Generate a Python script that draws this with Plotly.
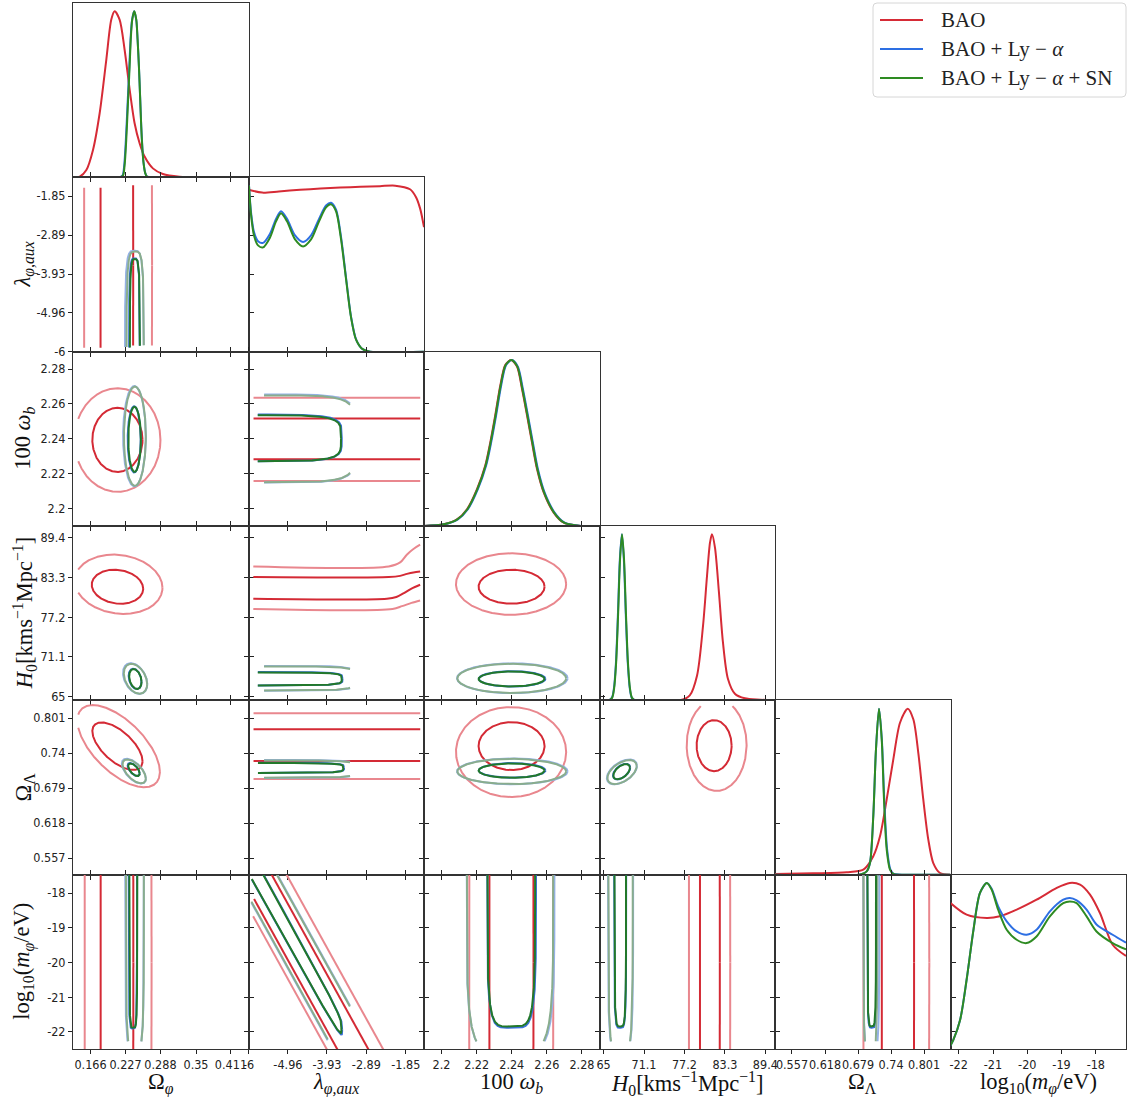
import numpy as np
import plotly.graph_objects as go

# ---------------------------------------------------------------- parameters
PARAM_KEYS = ["om", "lam", "wb", "h0", "ol", "lm"]

AXIS_LABELS = {
    "om": "Ω<sub><i>φ</i></sub>",
    "lam": "<i>λ</i><sub><i>φ,aux</i></sub>",
    "wb": "100 <i>ω</i><sub><i>b</i></sub>",
    "h0": "<i>H</i><sub>0</sub>[kms<sup>−1</sup>Mpc<sup>−1</sup>]",
    "ol": "Ω<sub>Λ</sub>",
    "lm": "log<sub>10</sub>(<i>m</i><sub><i>φ</i></sub>/eV)",
}

TICK_VALUES = {
    "om": [0.166, 0.227, 0.288, 0.35, 0.411],
    "lam": [-6.0, -4.96, -3.93, -2.89, -1.85],
    "wb": [2.2, 2.22, 2.24, 2.26, 2.28],
    "h0": [65.0, 71.1, 77.2, 83.3, 89.4],
    "ol": [0.557, 0.618, 0.679, 0.74, 0.801],
    "lm": [-22, -21, -20, -19, -18],
}
TICK_TEXT = {
    "om": ["0.166", "0.227", "0.288", "0.35", "0.411"],
    "lam": ["-6", "-4.96", "-3.93", "-2.89", "-1.85"],
    "wb": ["2.2", "2.22", "2.24", "2.26", "2.28"],
    "h0": ["65", "71.1", "77.2", "83.3", "89.4"],
    "ol": ["0.557", "0.618", "0.679", "0.74", "0.801"],
    "lm": ["-22", "-21", "-20", "-19", "-18"],
}

# column (x) and row (y) limits
X_RANGES = {
    "om": [0.1354, 0.4416],
    "lam": [-6.0, -1.37],
    "wb": [2.19, 2.29],
    "h0": [64.39, 90.85],
    "ol": [0.5256, 0.8499],
    "lm": [-22.24, -17.12],
}
Y_RANGES = {
    "lam": [-6.0, -1.35],
    "wb": [2.19, 2.29],
    "h0": [64.45, 91.2],
    "ol": [0.528, 0.832],
    "lm": [-22.49, -17.47],
}
PDF_RANGE = [0.0, 1.05]

# ---------------------------------------------------------------- datasets
DATASET_NAMES = ["BAO", "BAO + Ly − <i>α</i>", "BAO + Ly − <i>α</i> + SN"]
LINE_COLORS = ["#d62b36", "#2d6fe3", "#2e8b22"]
INNER_COLORS = ["#d42a35", "#3a70dc", "#22782a"]
OUTER_COLORS = ["#e9878e", "#94b1e6", "#89ad8d"]

# 1D marginals (normalised to peak = 1): x samples and heights
BAO_1D = {
    "om": ([0.1354, 0.1471, 0.1587, 0.1703, 0.1819, 0.1935, 0.2022, 0.2080, 0.2167, 0.2254,
            0.2342, 0.2429, 0.2516, 0.2603, 0.2748, 0.2922, 0.3212, 0.3676, 0.4416],
           [0.0, 0.004, 0.044, 0.165, 0.386, 0.708, 0.95, 1.0, 0.95, 0.77,
            0.53, 0.326, 0.205, 0.125, 0.054, 0.02, 0.004, 0.0, 0.0]),
    "lam": ([-6.0, -5.64, -5.2, -4.64, -4.1, -3.58, -3.05, -2.53, -2.13, -1.74, -1.58, -1.47, -1.37],
            [0.975, 0.958, 0.965, 0.975, 0.982, 0.988, 0.993, 0.997, 1.0, 0.978, 0.93, 0.86, 0.75]),
    "wb": ([2.19, 2.2012, 2.2088, 2.2145, 2.2202, 2.2249, 2.2278, 2.2306, 2.2335, 2.2363, 2.2396,
            2.243, 2.2458, 2.2487, 2.2515, 2.2544, 2.2582, 2.2639, 2.2696, 2.2791, 2.29],
           [0.0, 0.01, 0.04, 0.101, 0.222, 0.364, 0.505, 0.667, 0.848, 0.97, 1.0,
            0.96, 0.828, 0.667, 0.505, 0.343, 0.202, 0.081, 0.02, 0.0, 0.0]),
    "h0": ([64.39, 76.5, 78.0, 79.1, 80.0, 80.6, 81.05, 81.35, 81.8, 82.4, 83.0, 83.75, 84.8, 86.3, 88.6, 90.85],
           [0.0, 0.0, 0.03, 0.15, 0.45, 0.75, 0.95, 1.0, 0.92, 0.65, 0.35, 0.13, 0.04, 0.012, 0.004, 0.0]),
    "ol": ([0.5256, 0.5964, 0.6581, 0.6888, 0.7072, 0.7196, 0.732, 0.7442, 0.7566, 0.7708,
            0.7812, 0.7904, 0.7996, 0.8089, 0.8181, 0.8305, 0.8499],
           [0.004, 0.008, 0.014, 0.03, 0.111, 0.231, 0.453, 0.694, 0.915, 1.0,
            0.936, 0.734, 0.453, 0.211, 0.07, 0.01, 0.0]),
    "lm": ([-22.24, -21.77, -21.18, -20.8, -20.31, -19.73, -19.14, -18.76, -18.46, -18.17, -17.88, -17.51, -17.12],
           [0.879, 0.809, 0.789, 0.799, 0.839, 0.899, 0.97, 1.0, 0.99, 0.93, 0.819, 0.628, 0.56]),
}
LYA_1D = {
    "om": ([0.2160, 0.2218, 0.2247, 0.2276, 0.2306, 0.2337, 0.2361, 0.2385, 0.2421, 0.2457,
            0.2481, 0.2504, 0.2526, 0.2546, 0.2566, 0.2586, 0.2615, 0.2644, 0.2719],
           [0.0, 0.01, 0.07, 0.225, 0.44, 0.67, 0.85, 0.95, 1.0, 0.95,
            0.83, 0.67, 0.48, 0.3, 0.17, 0.085, 0.025, 0.005, 0.0]),
    "lam": ([-5.987, -5.934, -5.855, -5.749, -5.617, -5.432, -5.274, -5.142, -4.984, -4.772, -4.561, -4.35,
             -4.139, -3.954, -3.822, -3.69, -3.558, -3.426, -3.294, -3.162, -3.004, -2.79, -1.37],
            [1.0, 0.84, 0.72, 0.665, 0.655, 0.71, 0.80, 0.845, 0.80, 0.70, 0.66, 0.70,
             0.80, 0.88, 0.897, 0.855, 0.69, 0.445, 0.21, 0.074, 0.018, 0.0, 0.0]),
    "wb": ([2.19, 2.2017, 2.2093, 2.215, 2.2207, 2.2254, 2.2283, 2.2311, 2.234, 2.2368, 2.2401,
            2.2435, 2.2463, 2.2492, 2.252, 2.2549, 2.2587, 2.2644, 2.2701, 2.2796, 2.29],
           [0.0, 0.01, 0.04, 0.101, 0.222, 0.364, 0.505, 0.667, 0.848, 0.97, 1.0,
            0.96, 0.828, 0.667, 0.505, 0.343, 0.202, 0.081, 0.02, 0.0, 0.0]),
    "h0": ([64.39, 65.76, 66.26, 66.56, 66.86, 67.16, 67.46, 67.76, 68.06, 68.36, 68.66, 68.96, 69.26, 69.76, 90.85],
           [0.0, 0.0, 0.015, 0.07, 0.22, 0.51, 0.85, 1.0, 0.85, 0.51, 0.22, 0.07, 0.015, 0.0, 0.0]),
    "ol": ([0.5256, 0.68, 0.695, 0.7011, 0.7072, 0.7122, 0.7178, 0.723, 0.7275, 0.7328, 0.739, 0.7452, 0.76, 0.8499],
           [0.0, 0.0, 0.02, 0.07, 0.352, 0.755, 1.0, 0.815, 0.453, 0.151, 0.03, 0.004, 0.0, 0.0]),
    "lm": ([-22.30, -22.16, -21.96, -21.77, -21.57, -21.38, -21.18, -21.04, -20.85, -20.60, -20.31,
            -20.02, -19.73, -19.34, -18.95, -18.76, -18.56, -18.27, -17.98, -17.51, -17.12],
           [0.0, 0.054, 0.175, 0.417, 0.718, 0.94, 1.0, 0.965, 0.859, 0.769, 0.708,
            0.688, 0.718, 0.829, 0.899, 0.909, 0.895, 0.84, 0.75, 0.688, 0.64]),
}
SN_1D = {
    "om": ([0.2167, 0.2225, 0.2254, 0.2283, 0.2312, 0.2342, 0.2365, 0.2388, 0.2423, 0.2458,
            0.2481, 0.2504, 0.2525, 0.2545, 0.2565, 0.2585, 0.2614, 0.2643, 0.2719],
           [0.0, 0.01, 0.07, 0.225, 0.44, 0.67, 0.85, 0.95, 1.0, 0.95,
            0.83, 0.67, 0.48, 0.3, 0.17, 0.085, 0.025, 0.005, 0.0]),
    "lam": ([-5.987, -5.934, -5.855, -5.749, -5.617, -5.432, -5.274, -5.142, -4.984, -4.772, -4.561, -4.35,
             -4.139, -3.954, -3.822, -3.69, -3.558, -3.426, -3.294, -3.162, -3.004, -2.79, -1.37],
            [1.0, 0.827, 0.70, 0.64, 0.628, 0.688, 0.785, 0.833, 0.785, 0.676, 0.634, 0.676,
             0.785, 0.869, 0.887, 0.845, 0.676, 0.435, 0.205, 0.072, 0.018, 0.0, 0.0]),
    "wb": ([2.19, 2.2014, 2.209, 2.2147, 2.2204, 2.2251, 2.228, 2.2308, 2.2337, 2.2365, 2.2398,
            2.2432, 2.246, 2.2489, 2.2517, 2.2546, 2.2584, 2.2641, 2.2698, 2.2793, 2.29],
           [0.0, 0.01, 0.04, 0.101, 0.222, 0.364, 0.505, 0.667, 0.848, 0.97, 1.0,
            0.96, 0.828, 0.667, 0.505, 0.343, 0.202, 0.081, 0.02, 0.0, 0.0]),
    "h0": ([64.39, 65.79, 66.29, 66.59, 66.89, 67.19, 67.49, 67.79, 68.09, 68.39, 68.69, 68.99, 69.29, 69.79, 90.85],
           [0.0, 0.0, 0.015, 0.07, 0.22, 0.51, 0.85, 1.0, 0.85, 0.51, 0.22, 0.07, 0.015, 0.0, 0.0]),
    "ol": ([0.5256, 0.68, 0.695, 0.7011, 0.7072, 0.7122, 0.7178, 0.7228, 0.727, 0.732, 0.7381, 0.7442, 0.76, 0.8499],
           [0.0, 0.0, 0.02, 0.07, 0.352, 0.755, 1.0, 0.815, 0.453, 0.151, 0.03, 0.004, 0.0, 0.0]),
    "lm": ([-22.30, -22.16, -21.96, -21.77, -21.57, -21.38, -21.18, -21.04, -20.85, -20.60, -20.31,
            -20.02, -19.73, -19.34, -18.95, -18.76, -18.56, -18.27, -17.98, -17.51, -17.12],
           [0.0, 0.054, 0.175, 0.417, 0.718, 0.94, 1.0, 0.96, 0.839, 0.718, 0.658,
            0.638, 0.678, 0.799, 0.879, 0.889, 0.879, 0.799, 0.708, 0.638, 0.6]),
}

# 2D credible contours.
# (x param, y param, cx, cy, hx, slope, half-height, shape exponent, clip box (x0, x1, y0, y1))
# x = cx + hx*u ; y = cy + slope*hx*u + half_height*v, with (u, v) on a unit superellipse.
BAO_68 = [
    ("om", "lam", 0.2119, -3.7, 0.0285, 0.0, 30.0, 2, (None, None, -5.9, -1.51)),
    ("om", "wb", 0.2129, 2.2394, 0.0438, 0.0, 0.0184, 2, None),
    ("om", "h0", 0.213, 81.88, 0.0449, -7.0, 2.6, 2, None),
    ("om", "ol", 0.2129, 0.752, 0.0438, -0.596, 0.0323, 2, None),
    ("om", "lm", 0.2121, -20.0, 0.0286, 0.0, 30.0, 2, None),
    ("lam", "wb", -3.7, 2.24, 30.0, 0.0, 0.0117, 2, (-5.88, -1.47, None, None)),
    ("lam", "ol", -3.7, 0.754, 30.0, 0.0, 0.0277, 2, (-5.88, -1.47, None, None)),
    ("lam", "lm", -4.408, -20.21, 20.0, -1.97, 0.81, 2, (-5.88, None, None, None)),
    ("wb", "h0", 2.2399, 81.88, 0.0188, 0.0, 2.61, 2, None),
    ("wb", "ol", 2.2399, 0.7522, 0.0188, 0.0, 0.0418, 2, None),
    ("wb", "lm", 2.2398, -20.0, 0.0126, 0.0, 30.0, 2, None),
    ("h0", "ol", 81.67, 0.753, 2.64, 0.0, 0.0445, 2, None),
    ("h0", "lm", 81.03, -20.0, 1.5, 0.0, 30.0, 2, None),
    ("ol", "lm", 0.7527, -20.0, 0.0299, 0.0, 30.0, 2, None),
]
BAO_95 = [
    ("om", "lam", 0.214, -3.7, 0.0593, 0.0, 30.0, 2, (None, None, -5.9, -1.51)),
    ("om", "wb", 0.213, 2.2393, 0.075, 0.0, 0.0297, 2, (0.1445, None, None, None)),
    ("om", "h0", 0.215, 82.26, 0.0765, -7.0, 4.52, 2, (0.1445, None, None, None)),
    ("om", "ol", 0.215, 0.752, 0.072, -0.62, 0.0561, 2, (0.1445, None, None, 0.824)),
    ("om", "lm", 0.214, -20.0, 0.0585, 0.0, 30.0, 2, None),
    ("lam", "wb", -3.7, 2.2397, 30.0, 0.0, 0.024, 2, (-5.88, -1.47, None, None)),
    ("lam", "ol", -3.7, 0.752, 30.0, 0.0, 0.0575, 2, (-5.88, -1.47, None, None)),
    ("lam", "lm", -4.35, -20.21, 20.0, -1.97, 1.47, 2, (-5.88, None, None, None)),
    ("wb", "h0", 2.2396, 82.3, 0.0314, 0.0, 4.73, 2, None),
    ("wb", "ol", 2.2396, 0.7418, 0.0314, 0.0, 0.0785, 2, None),
    ("wb", "lm", 2.2397, -20.0, 0.024, 0.0, 30.0, 2, None),
    ("h0", "ol", 82.05, 0.754, 4.52, 0.0, 0.08, 2, (None, None, None, 0.822)),
    ("h0", "lm", 80.98, -20.0, 3.12, 0.0, 30.0, 2, None),
    ("ol", "lm", 0.7497, -20.0, 0.061, 0.0, 30.0, 2, None),
]
# open BAO contour lines in the (lambda, H0) panel that turn up near the upper lambda limit
# (x param, y param, level, lambda samples, H0 samples)
BAO_OPEN_LINES = [
    ("lam", "h0", 95, [-5.873, -2.3, -2.0, -1.824, -1.649, -1.472], [85.0, 85.0, 85.61, 86.8, 87.67, 88.33]),
    ("lam", "h0", 68, [-5.873, -2.3, -2.0, -1.82, -1.65, -1.472], [83.37, 83.37, 83.55, 83.85, 84.08, 84.23]),
    ("lam", "h0", 68, [-5.873, -2.35, -2.1, -1.9, -1.7, -1.472], [80.04, 80.04, 80.3, 80.9, 81.6, 82.19]),
    ("lam", "h0", 95, [-5.873, -2.2, -1.95, -1.7, -1.472], [78.46, 78.46, 78.9, 79.4, 79.78]),
]
LYA_68 = [
    ("om", "lam", 0.2426, -6.0, 0.0092, 0.0, 2.49, 4, (None, None, -5.95, None)),
    ("om", "wb", 0.2422, 2.2397, 0.0114, 0.0, 0.019, 2, None),
    ("om", "h0", 0.2437, 67.74, 0.0112, -40.0, 1.5, 2, None),
    ("om", "ol", 0.2412, 0.7114, 0.0104, -0.66, 0.0092, 2, None),
    ("om", "lm", 0.2398, -17.5, 0.0074, 0.0, 4.4, 5, None),
    ("lam", "wb", -6.0, 2.2405, 2.46, 0.0, 0.0134, 5, (-5.92, None, None, None)),
    ("lam", "h0", -6.0, 67.75, 2.48, 0.0, 1.03, 5, (-5.92, None, None, None)),
    ("lam", "ol", -6.0, 0.7142, 2.52, 0.0, 0.009, 5, (-5.92, None, None, None)),
    ("lam", "lm", -6.6, -15.88, 3.07, -1.97, 0.375, 5, (-5.92, None, None, None)),
    ("wb", "h0", 2.2402, 67.75, 0.019, 0.0, 1.18, 2, None),
    ("wb", "ol", 2.2402, 0.7098, 0.019, 0.0, 0.0128, 2, None),
    ("wb", "lm", 2.2399, -17.5, 0.0139, 0.0, 4.38, 5, None),
    ("h0", "ol", 67.72, 0.7078, 1.3, 0.0053, 0.0118, 2, None),
    ("h0", "lm", 67.5, -17.5, 0.91, 0.0, 4.38, 5, None),
    ("ol", "lm", 0.7048, -17.5, 0.0088, 0.0, 4.38, 5, None),
]
LYA_95 = [
    ("om", "lam", 0.2425, -6.0, 0.0163, 0.0, 2.69, 4, (None, None, -5.95, None)),
    ("om", "wb", 0.2426, 2.2415, 0.0198, 0.0, 0.0288, 2, None),
    ("om", "h0", 0.2438, 67.8, 0.0212, -40.0, 2.2, 2, None),
    ("om", "ol", 0.2416, 0.7085, 0.021, -0.62, 0.0174, 2, None),
    ("om", "lm", 0.2427, -17.5, 0.0163, 0.0, 5.0, 5, (None, None, -22.27, None)),
    ("lam", "wb", -6.0, 2.2402, 2.82, 0.0, 0.0252, 6, (-5.92, -3.32, None, None)),
    ("lam", "h0", -6.0, 67.83, 2.82, 0.0, 1.9, 6, (-5.92, -3.32, None, None)),
    ("lam", "ol", -6.0, 0.7122, 2.82, 0.0, 0.0157, 6, (-5.92, -3.32, None, None)),
    ("lam", "lm", -4.394, -20.21, 20.0, -1.97, 1.08, 2, (-5.94, -3.3, -22.27, None)),
    ("wb", "h0", 2.2403, 67.84, 0.0315, 0.0, 2.3, 2, None),
    ("wb", "ol", 2.2403, 0.7082, 0.0315, 0.0, 0.0225, 2, None),
    ("wb", "lm", 2.2393, -17.5, 0.025, 0.0, 5.1, 5, (None, None, -22.27, None)),
    ("h0", "ol", 67.77, 0.7072, 2.27, 0.00475, 0.0188, 2, None),
    ("h0", "lm", 67.56, -17.5, 1.9, 0.0, 5.1, 5, (None, None, -22.27, None)),
    ("ol", "lm", 0.7035, -17.5, 0.0148, 0.0, 5.1, 5, (None, None, -22.27, None)),
]
SN_68 = [
    ("om", "lam", 0.2434, -6.0, 0.0087, 0.0, 2.47, 4, (None, None, -5.95, None)),
    ("om", "wb", 0.2428, 2.2397, 0.011, 0.0, 0.0187, 2, None),
    ("om", "h0", 0.2442, 67.72, 0.0108, -40.0, 1.47, 2, None),
    ("om", "ol", 0.2417, 0.711, 0.01, -0.66, 0.0088, 2, None),
    ("om", "lm", 0.2405, -17.5, 0.007, 0.0, 4.38, 5, None),
    ("lam", "wb", -6.0, 2.2403, 2.44, 0.0, 0.0132, 5, (-5.92, None, None, None)),
    ("lam", "h0", -6.0, 67.73, 2.46, 0.0, 1.0, 5, (-5.92, None, None, None)),
    ("lam", "ol", -6.0, 0.714, 2.5, 0.0, 0.0087, 5, (-5.92, None, None, None)),
    ("lam", "lm", -6.6, -15.88, 3.05, -1.97, 0.364, 5, (-5.92, None, None, None)),
    ("wb", "h0", 2.2399, 67.73, 0.0188, 0.0, 1.15, 2, None),
    ("wb", "ol", 2.2399, 0.7095, 0.0188, 0.0, 0.0125, 2, None),
    ("wb", "lm", 2.2397, -17.5, 0.0136, 0.0, 4.34, 5, None),
    ("h0", "ol", 67.73, 0.7075, 1.26, 0.00528, 0.0115, 2, None),
    ("h0", "lm", 67.51, -17.5, 0.88, 0.0, 4.34, 5, None),
    ("ol", "lm", 0.7042, -17.5, 0.008, 0.0, 4.34, 5, None),
]
SN_95 = [
    ("om", "lam", 0.2439, -6.0, 0.015, 0.0, 2.67, 4, (None, None, -5.95, None)),
    ("om", "wb", 0.2434, 2.2415, 0.0191, 0.0, 0.0285, 2, None),
    ("om", "h0", 0.2444, 67.76, 0.0204, -40.0, 2.15, 2, None),
    ("om", "ol", 0.2422, 0.7081, 0.0203, -0.618, 0.0167, 2, None),
    ("om", "lm", 0.2433, -17.5, 0.0157, 0.0, 5.0, 5, (None, None, -22.27, None)),
    ("lam", "wb", -6.0, 2.24, 2.8, 0.0, 0.0249, 6, (-5.92, -3.32, None, None)),
    ("lam", "h0", -6.0, 67.81, 2.8, 0.0, 1.84, 6, (-5.92, -3.32, None, None)),
    ("lam", "ol", -6.0, 0.712, 2.8, 0.0, 0.0152, 6, (-5.92, -3.32, None, None)),
    ("lam", "lm", -4.394, -20.21, 20.0, -1.97, 1.05, 2, (-5.94, -3.32, -22.27, None)),
    ("wb", "h0", 2.24, 67.82, 0.031, 0.0, 2.25, 2, None),
    ("wb", "ol", 2.24, 0.708, 0.031, 0.0, 0.022, 2, None),
    ("wb", "lm", 2.239, -17.5, 0.0246, 0.0, 5.1, 5, (None, None, -22.27, None)),
    ("h0", "ol", 67.79, 0.7069, 2.21, 0.00475, 0.0182, 2, None),
    ("h0", "lm", 67.56, -17.5, 1.84, 0.0, 5.1, 5, (None, None, -22.27, None)),
    ("ol", "lm", 0.7017, -17.5, 0.0129, 0.0, 5.1, 5, (None, None, -22.27, None)),
]

DATASETS = [
    (BAO_1D, BAO_68, BAO_95, BAO_OPEN_LINES),
    (LYA_1D, LYA_68, LYA_95, []),
    (SN_1D, SN_68, SN_95, []),
]

# ---------------------------------------------------------------- geometry
FIG_W, FIG_H = 1128, 1097
LEFT, RIGHT, TOP, BOTTOM = 73.0, 1126.0, 3.0, 1049.0
NP = len(PARAM_KEYS)
CELL_W = (RIGHT - LEFT) / NP
CELL_H = (BOTTOM - TOP) / NP

TICK_FONT = dict(family="Liberation Sans Narrow, DejaVu Sans Condensed, Liberation Sans",
                 size=12.5, color="#222222")
TITLE_FONT = dict(family="Liberation Serif", size=22.5, color="#111111")
LEGEND_FONT = dict(family="Liberation Serif", size=21, color="#222222")
FRAME = "#333333"


def px(x):
    return x / FIG_W


def py(y):
    return 1 - y / FIG_H


def x_domain(j):
    return [px(LEFT + j * CELL_W), px(LEFT + (j + 1) * CELL_W)]


def y_domain(i):
    return [py(TOP + (i + 1) * CELL_H), py(TOP + i * CELL_H)]


COMMON_AXIS = dict(showgrid=False, zeroline=False, fixedrange=True, automargin=False,
                   tickangle=0, showline=True, linecolor=FRAME, linewidth=1)

panel = {}
layout_axes = {}
n = 0
for i in range(NP):
    for j in range(i + 1):
        n += 1
        panel[(i, j)] = n
        sfx = "" if n == 1 else str(n)
        xk, yk = PARAM_KEYS[j], PARAM_KEYS[i]
        diag = i == j
        layout_axes["xaxis" + sfx] = dict(
            domain=x_domain(j), anchor="y" + sfx, range=X_RANGES[xk],
            tickmode="array", tickvals=TICK_VALUES[xk], ticktext=TICK_TEXT[xk],
            ticks="outside", ticklen=4, tickwidth=1, tickcolor="#222",
            showticklabels=(i == NP - 1), tickfont=TICK_FONT,
            mirror=True if diag else "allticks", **COMMON_AXIS,
        )
        if diag:
            layout_axes["yaxis" + sfx] = dict(
                domain=y_domain(i), anchor="x" + sfx, range=PDF_RANGE,
                showticklabels=False, ticks="", mirror=True, **COMMON_AXIS,
            )
        else:
            layout_axes["yaxis" + sfx] = dict(
                domain=y_domain(i), anchor="x" + sfx, range=Y_RANGES[yk],
                tickmode="array", tickvals=TICK_VALUES[yk], ticktext=TICK_TEXT[yk],
                ticks="outside", ticklen=4, tickwidth=1, tickcolor="#222",
                showticklabels=(j == 0), tickfont=TICK_FONT,
                mirror="allticks", **COMMON_AXIS,
            )


def contour_xy(cx, cy, hx, slope, hh, p, clip, xr, yr, npts=1500):
    """Superellipse contour, clipped to an optional box; gaps become None."""
    t = np.linspace(0.0, 2.0 * np.pi, npts)
    c, s = np.cos(t), np.sin(t)
    u = np.sign(c) * np.abs(c) ** (2.0 / p)
    v = np.sign(s) * np.abs(s) ** (2.0 / p)
    x = cx + hx * u
    y = cy + slope * hx * u + hh * v
    keep = np.ones(npts, dtype=bool)
    if clip is not None:
        x0, x1, y0, y1 = clip
        if x0 is not None:
            keep &= x >= x0
        if x1 is not None:
            keep &= x <= x1
        if y0 is not None:
            keep &= y >= y0
        if y1 is not None:
            keep &= y <= y1
    # drop points far outside the panel (the panel itself clips the rest)
    padx = 0.15 * (xr[1] - xr[0])
    pady = 0.15 * (yr[1] - yr[0])
    keep &= (x > xr[0] - padx) & (x < xr[1] + padx) & (y > yr[0] - pady) & (y < yr[1] + pady)
    xs, ys = [], []
    for xi, yi, ok in zip(x, y, keep):
        if ok:
            xs.append(round(float(xi), 6))
            ys.append(round(float(yi), 6))
        elif xs and xs[-1] is not None:
            xs.append(None)
            ys.append(None)
    return xs, ys


def axis_suffix(xk, yk):
    nn = panel[(PARAM_KEYS.index(yk), PARAM_KEYS.index(xk))]
    return "" if nn == 1 else str(nn)


fig = go.Figure()

for d, (pdfs, c68, c95, open_lines) in enumerate(DATASETS):
    # contours: outer level first, then inner level
    for specs, color in ((c95, OUTER_COLORS[d]), (c68, INNER_COLORS[d])):
        for (xk, yk, cx, cy, hx, slope, hh, p, clip) in specs:
            sfx = axis_suffix(xk, yk)
            xs, ys = contour_xy(cx, cy, hx, slope, hh, p, clip, X_RANGES[xk], Y_RANGES[yk])
            fig.add_trace(go.Scatter(
                x=xs, y=ys, mode="lines", xaxis="x" + sfx, yaxis="y" + sfx,
                line=dict(color=color, width=2), showlegend=False,
                hoverinfo="skip", connectgaps=False,
            ))
    for level in (95, 68):
        for (xk, yk, lev, xs, ys) in open_lines:
            if lev != level:
                continue
            sfx = axis_suffix(xk, yk)
            fig.add_trace(go.Scatter(
                x=xs, y=ys, mode="lines", xaxis="x" + sfx, yaxis="y" + sfx,
                line=dict(color=OUTER_COLORS[d] if lev == 95 else INNER_COLORS[d], width=2,
                          shape="spline", smoothing=0.9),
                showlegend=False, hoverinfo="skip",
            ))
    # 1D marginals on the diagonal
    for k, key in enumerate(PARAM_KEYS):
        sfx = axis_suffix(key, key)
        xs, ys = pdfs[key]
        fig.add_trace(go.Scatter(
            x=xs, y=ys, mode="lines", xaxis="x" + sfx, yaxis="y" + sfx,
            line=dict(color=LINE_COLORS[d], width=2, shape="spline", smoothing=0.8),
            name=DATASET_NAMES[d], showlegend=False, hoverinfo="skip",
        ))

# axis titles
annotations = []
for j, key in enumerate(PARAM_KEYS):
    xd = x_domain(j)
    annotations.append(dict(
        text=AXIS_LABELS[key], x=(xd[0] + xd[1]) / 2, y=py(1083),
        xref="paper", yref="paper", xanchor="center", yanchor="middle",
        showarrow=False, font=TITLE_FONT,
    ))
for i, key in enumerate(PARAM_KEYS[1:], start=1):
    yd = y_domain(i)
    annotations.append(dict(
        text=AXIS_LABELS[key], x=px(24), y=(yd[0] + yd[1]) / 2,
        xref="paper", yref="paper", xanchor="center", yanchor="middle",
        textangle=-90, showarrow=False, font=TITLE_FONT,
    ))

# legend box in the empty upper-right corner
LEG_X0, LEG_X1, LEG_Y0, LEG_Y1, LEG_R = 873.0, 1126.0, 3.0, 97.0, 4.0
LEG_ROWS = [20.0, 49.0, 78.0]
box = (f"M {px(LEG_X0 + LEG_R)},{py(LEG_Y0)} L {px(LEG_X1 - LEG_R)},{py(LEG_Y0)} "
       f"Q {px(LEG_X1)},{py(LEG_Y0)} {px(LEG_X1)},{py(LEG_Y0 + LEG_R)} "
       f"L {px(LEG_X1)},{py(LEG_Y1 - LEG_R)} Q {px(LEG_X1)},{py(LEG_Y1)} {px(LEG_X1 - LEG_R)},{py(LEG_Y1)} "
       f"L {px(LEG_X0 + LEG_R)},{py(LEG_Y1)} Q {px(LEG_X0)},{py(LEG_Y1)} {px(LEG_X0)},{py(LEG_Y1 - LEG_R)} "
       f"L {px(LEG_X0)},{py(LEG_Y0 + LEG_R)} Q {px(LEG_X0)},{py(LEG_Y0)} {px(LEG_X0 + LEG_R)},{py(LEG_Y0)} Z")
shapes = [dict(type="path", path=box, xref="paper", yref="paper",
               line=dict(color="#d6d6d6", width=1), fillcolor="rgba(255,255,255,0.85)", layer="above")]
for d, yrow in enumerate(LEG_ROWS):
    shapes.append(dict(type="line", xref="paper", yref="paper",
                       x0=px(880), x1=px(923), y0=py(yrow), y1=py(yrow),
                       line=dict(color=LINE_COLORS[d], width=2), layer="above"))
    annotations.append(dict(
        text=DATASET_NAMES[d], x=px(939), y=py(yrow), xref="paper", yref="paper",
        xanchor="left", yanchor="middle", showarrow=False, font=LEGEND_FONT,
    ))

fig.update_layout(
    template="none",
    width=FIG_W, height=FIG_H, autosize=False,
    margin=dict(l=0, r=0, t=0, b=0, pad=0),
    paper_bgcolor="white", plot_bgcolor="white",
    annotations=annotations, shapes=shapes,
    showlegend=False,
    **layout_axes,
)

fig.write_html("out.html")
